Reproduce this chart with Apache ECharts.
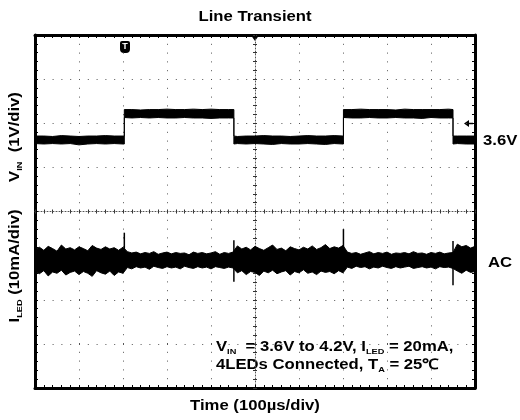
<!DOCTYPE html>
<html>
<head>
<meta charset="utf-8">
<script src="https://cdn.jsdelivr.net/npm/echarts@6/dist/echarts.min.js"></script>
<style>
  html, body { margin: 0; padding: 0; background: #fff; }
  #main { width: 520px; height: 420px; }
</style>
</head>
<body>
<div id="main"></div>
<script>
// time axis: 100us/div, 10 div
var xTicks = [0, 100, 200, 300, 400, 500, 600, 700, 800, 900, 1000];

var vinTime = [0, 20, 40, 60, 80, 100, 120, 140, 160, 180, 200, 203, 203,
  220, 240, 260, 280, 300, 320, 340, 360, 380, 400, 420, 440, 452, 452,
  460, 480, 500, 520, 540, 560, 580, 600, 620, 640, 660, 680, 700, 701, 701,
  720, 740, 760, 780, 800, 820, 840, 860, 880, 900, 920, 940, 950, 950,
  960, 980, 1000];
var vinUpper = [3.68, 3.68, 3.67, 3.69, 3.68, 3.67, 3.68, 3.68, 3.69, 3.68, 3.68, 3.68, 4.28,
  4.28, 4.27, 4.28, 4.28, 4.29, 4.28, 4.28, 4.29, 4.28, 4.29, 4.28, 4.28, 4.28, 3.68,
  3.67, 3.68, 3.68, 3.69, 3.68, 3.68, 3.67, 3.68, 3.69, 3.68, 3.68, 3.69, 3.68, 3.68, 4.28,
  4.28, 4.29, 4.28, 4.28, 4.28, 4.27, 4.29, 4.28, 4.28, 4.28, 4.28, 4.29, 4.28, 3.68,
  3.68, 3.68, 3.68];
var vinLower = [3.51, 3.50, 3.51, 3.50, 3.51, 3.48, 3.50, 3.51, 3.50, 3.51, 3.50, 3.50, 4.10,
  4.09, 4.10, 4.09, 4.10, 4.09, 4.09, 4.10, 4.09, 4.09, 4.08, 4.09, 4.09, 4.09, 3.50,
  3.51, 3.50, 3.51, 3.50, 3.49, 3.51, 3.50, 3.50, 3.51, 3.50, 3.49, 3.51, 3.50, 3.50, 4.10,
  4.09, 4.09, 4.10, 4.09, 4.09, 4.10, 4.09, 4.09, 4.08, 4.10, 4.09, 4.09, 4.09, 3.50,
  3.51, 3.50, 3.50];

// ILED trace (AC coupled, mA), envelope every 10us
var iledTime = [0, 10, 20, 30, 40, 50, 60, 70, 80, 90, 100, 110, 120, 130, 140, 150, 160, 170, 180, 190, 200,
  210, 220, 230, 240, 250, 260, 270, 280, 290, 300, 310, 320, 330, 340, 350, 360, 370, 380, 390, 400, 410, 420, 430, 440, 450,
  460, 470, 480, 490, 500, 510, 520, 530, 540, 550, 560, 570, 580, 590, 600, 610, 620, 630, 640, 650, 660, 670, 680, 690, 700,
  710, 720, 730, 740, 750, 760, 770, 780, 790, 800, 810, 820, 830, 840, 850, 860, 870, 880, 890, 900, 910, 920, 930, 940, 950,
  960, 970, 980, 990, 1000];
var iledUpper = [2.4, 2.9, 2.2, 3.1, 2.6, 2.0, 3.4, 2.5, 2.8, 2.3, 3.0, 2.6, 2.1, 3.3, 2.7, 2.4, 3.0, 2.5, 2.8, 2.2, 2.9,
  1.9, 1.6, 1.8, 1.4, 1.7, 1.5, 1.9, 1.3, 1.6, 1.8, 1.4, 1.7, 1.5, 1.6, 1.2, 1.8, 1.5, 1.7, 1.4, 1.6, 1.9, 1.3, 1.7, 1.5, 1.8,
  3.2, 2.5, 2.9, 2.3, 3.1, 2.6, 2.2, 2.8, 3.4, 2.4, 2.7, 2.1, 3.0, 2.6, 2.3, 2.9, 2.5, 3.2, 2.4, 2.8, 3.5, 2.6, 3.0, 2.7, 3.3,
  1.8, 1.5, 1.7, 1.3, 1.6, 1.9, 1.4, 1.7, 1.5, 1.8, 1.3, 1.6, 1.5, 1.7, 1.4, 1.9, 1.5, 1.6, 1.3, 1.7, 1.5, 1.8, 1.4, 1.6, 1.7,
  3.6, 3.0, 3.3, 2.7, 3.1];
var iledLower = [-2.6, -3.1, -2.4, -3.6, -2.7, -3.0, -2.3, -3.4, -2.8, -2.5, -3.3, -2.6, -3.0, -3.7, -2.4, -2.9, -3.2, -2.5, -3.5, -2.7, -3.0,
  -1.7, -2.0, -1.5, -1.8, -1.6, -2.1, -1.4, -1.7, -1.9, -1.5, -1.8, -1.6, -2.0, -1.4, -1.7, -1.9, -1.5, -1.8, -1.6, -2.0, -1.5, -1.7, -1.9, -1.6, -1.8,
  -2.9, -2.4, -3.3, -2.6, -2.8, -3.5, -2.5, -2.9, -2.3, -3.1, -2.7, -2.4, -3.4, -2.6, -2.9, -2.2, -3.0, -2.7, -3.3, -2.5, -2.8, -2.6, -3.1, -2.4, -2.9,
  -1.6, -1.9, -1.4, -1.7, -1.5, -2.0, -1.6, -1.8, -1.4, -1.7, -1.9, -1.5, -1.8, -1.6, -1.4, -1.9, -1.7, -1.5, -1.8, -1.6, -2.0, -1.5, -1.7, -1.6, -1.9,
  -2.5, -3.0, -2.3, -2.8, -2.6];

// ILED spikes at the VIN edges
var spikeTime = [203, 452, 701, 950];
var spikeHigh = [6.2, 4.5, 7.0, 4.3];
var spikeLow = [-1.8, -4.9, -1.5, -5.7];

var FONT = '"Liberation Sans", Arial, sans-serif';
var GRID_DOT = '#555';

function band(api, t, up, lo) {
    var pts = [];
    for (var i = 0; i < t.length; i++) pts.push(api.coord([t[i], up[i]]));
    for (var j = t.length - 1; j >= 0; j--) pts.push(api.coord([t[j], lo[j]]));
    return pts;
}

function edgeAxis(pos, split, extra) {
    var ax = {
        type: 'value',
        position: pos,
        axisLine: { show: true, onZero: false, lineStyle: { color: '#000', width: 3 } },
        axisTick: { show: true, inside: true, length: 3, lineStyle: { color: '#000', width: 1 } },
        minorTick: { show: true, splitNumber: 5, length: 3, lineStyle: { color: '#000', width: 1 } },
        axisLabel: { show: false },
        splitLine: split ? { show: true, lineStyle: { color: GRID_DOT, width: 1, type: [1, 7.8] } } : { show: false },
        minorSplitLine: { show: false }
    };
    for (var k in extra) ax[k] = extra[k];
    return ax;
}

function centerAxis(pos, offset, inside, extra) {
    var ax = {
        type: 'value',
        position: pos,
        offset: offset,
        axisLine: { show: inside, onZero: false, lineStyle: { color: GRID_DOT, width: 1, type: [1, 2] } },
        axisTick: { show: true, inside: inside, length: 2, lineStyle: { color: '#333', width: 1 } },
        minorTick: { show: true, splitNumber: 5, length: 2, lineStyle: { color: '#333', width: 1 } },
        axisLabel: { show: false },
        splitLine: { show: false }
    };
    for (var k in extra) ax[k] = extra[k];
    return ax;
}

var xr = { min: xTicks[0], max: xTicks[xTicks.length - 1], interval: 100 };
var yr = { min: -4, max: 4, interval: 1 };

var chart = echarts.init(document.getElementById('main'));
var option = {
    animation: false,
    backgroundColor: '#fff',
    grid: { left: 35, top: 35, width: 440, height: 353, outerBoundsMode: 'none' },
    xAxis: [
        edgeAxis('bottom', true, xr),
        edgeAxis('top', false, xr),
        centerAxis('bottom', -176.5, true, xr),
        centerAxis('bottom', -176.5, false, xr)
    ],
    yAxis: [
        edgeAxis('left', true, yr),
        edgeAxis('right', false, yr),
        centerAxis('left', -220, true, yr),
        centerAxis('left', -220, false, yr),
        { type: 'value', show: false, position: 'right', min: -2.03, max: 5.97 },   // VIN 1V/div
        { type: 'value', show: false, position: 'right', min: -29, max: 51 }        // ILED 10mA/div
    ],
    series: [
        {
            name: 'VIN', type: 'custom', xAxisIndex: 0, yAxisIndex: 4, silent: true,
            data: [[vinTime[0], vinUpper[0]]],
            renderItem: function (params, api) {
                return {
                    type: 'polygon',
                    shape: { points: band(api, vinTime, vinUpper, vinLower) },
                    style: { fill: '#000', stroke: '#000', lineWidth: 1 }
                };
            }
        },
        {
            name: 'ILED', type: 'custom', xAxisIndex: 0, yAxisIndex: 5, silent: true,
            data: [[iledTime[0], iledUpper[0]]],
            renderItem: function (params, api) {
                var kids = [{
                    type: 'polygon',
                    shape: { points: band(api, iledTime, iledUpper, iledLower) },
                    style: { fill: '#000', stroke: '#000', lineWidth: 1 }
                }];
                spikeTime.forEach(function (t, i) {
                    var a = api.coord([t, spikeHigh[i]]), b = api.coord([t, spikeLow[i]]);
                    kids.push({ type: 'line', shape: { x1: a[0], y1: a[1], x2: b[0], y2: b[1] },
                        style: { stroke: '#000', lineWidth: 1.5 } });
                });
                return { type: 'group', children: kids };
            }
        }
    ],
    graphic: [
        { type: 'text', x: 255, y: 17, scaleX: 1.15,
          style: { text: 'Line Transient', font: 'bold 14.5px ' + FONT, fill: '#000',
                   align: 'center', verticalAlign: 'middle', textAlign: 'center', textVerticalAlign: 'middle' } },
        { type: 'text', x: 255, y: 406, scaleX: 1.15,
          style: { text: 'Time (100µs/div)', font: 'bold 14.5px ' + FONT, fill: '#000',
                   align: 'center', verticalAlign: 'middle', textAlign: 'center', textVerticalAlign: 'middle' } },
        { type: 'text', x: 15, y: 137, rotation: Math.PI / 2, scaleX: 1.15,
          style: { text: '{a|V}{s|IN}{a|  (1V/div)}', fill: '#000',
                   align: 'center', verticalAlign: 'middle', textAlign: 'center', textVerticalAlign: 'middle',
                   rich: { a: { font: 'bold 14.5px ' + FONT, lineHeight: 17 },
                           s: { font: 'bold 8px ' + FONT, lineHeight: 10, verticalAlign: 'bottom' } } } },
        { type: 'text', x: 15, y: 266, rotation: Math.PI / 2, scaleX: 1.15,
          style: { text: '{a|I}{s|LED}{a| (10mA/div)}', fill: '#000',
                   align: 'center', verticalAlign: 'middle', textAlign: 'center', textVerticalAlign: 'middle',
                   rich: { a: { font: 'bold 14.5px ' + FONT, lineHeight: 17 },
                           s: { font: 'bold 8px ' + FONT, lineHeight: 10, verticalAlign: 'bottom' } } } },
        { type: 'text', x: 216, y: 347, scaleX: 1.15,
          style: { text: '{a|V}{s|IN}{a|  = 3.6V to 4.2V, I}{s|LED}{a| = 20mA,}', fill: '#000',
                   align: 'left', verticalAlign: 'middle', textAlign: 'left', textVerticalAlign: 'middle',
                   rich: { a: { font: 'bold 14.5px ' + FONT, lineHeight: 17 },
                           s: { font: 'bold 8px ' + FONT, lineHeight: 10, verticalAlign: 'bottom' } } } },
        { type: 'text', x: 216, y: 365, scaleX: 1.15,
          style: { text: '{a|4LEDs Connected, T}{s|A}{a| = 25℃}', fill: '#000',
                   align: 'left', verticalAlign: 'middle', textAlign: 'left', textVerticalAlign: 'middle',
                   rich: { a: { font: 'bold 14.5px ' + FONT, lineHeight: 17 },
                           s: { font: 'bold 8px ' + FONT, lineHeight: 10, verticalAlign: 'bottom' } } } },
        { type: 'text', x: 483, y: 141, scaleX: 1.15,
          style: { text: '3.6V', font: 'bold 14.5px ' + FONT, fill: '#000',
                   align: 'left', verticalAlign: 'middle', textAlign: 'left', textVerticalAlign: 'middle' } },
        { type: 'text', x: 488, y: 263, scaleX: 1.15,
          style: { text: 'AC', font: 'bold 14.5px ' + FONT, fill: '#000',
                   align: 'left', verticalAlign: 'middle', textAlign: 'left', textVerticalAlign: 'middle' } },
        // trigger position marker on top edge
        { type: 'polygon', shape: { points: [[250, 34], [260, 34], [255, 41]] }, style: { fill: '#000' } },
        // trigger "T" badge
        { type: 'group', x: 120, y: 41, children: [
            { type: 'rect', shape: { x: 0, y: 0, width: 10, height: 12, r: [2, 2, 4, 4] }, style: { fill: '#000' } },
            { type: 'text', x: 5, y: 6, style: { text: 'T', font: 'bold 9px ' + FONT, fill: '#fff',
                align: 'center', verticalAlign: 'middle', textAlign: 'center', textVerticalAlign: 'middle' } }
        ] },
        // offset arrow at right edge
        { type: 'polygon', shape: { points: [[464, 123.5], [469, 120], [469, 127]] }, style: { fill: '#000' } },
        { type: 'line', shape: { x1: 468, y1: 123.5, x2: 473, y2: 123.5 }, style: { stroke: '#000', lineWidth: 1.5 } }
    ]
};
chart.setOption(option);
</script>
</body>
</html>
